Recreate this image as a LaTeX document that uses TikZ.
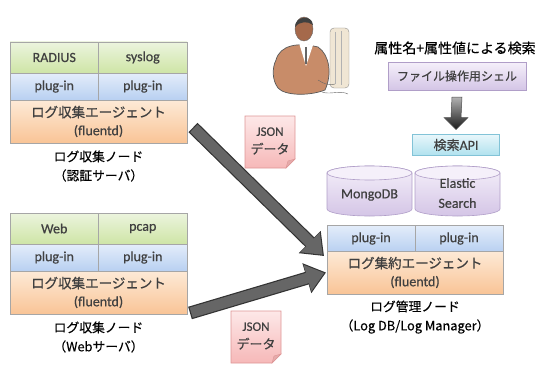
\documentclass[tikz,border=0pt]{standalone}
\usepackage{fontspec}
\setmainfont{Noto Sans CJK JP}[FakeBold=0.4]
\newfontfamily\jp{Noto Sans CJK JP}[FakeBold=0.6]
\newfontfamily\lat{Carlito}[FakeBold=0.5]
\usetikzlibrary{arrows.meta,calc}

\definecolor{grnT}{RGB}{236,244,222}
\definecolor{grnB}{RGB}{206,229,166}
\definecolor{bluT}{RGB}{228,237,250}
\definecolor{bluB}{RGB}{184,208,241}
\definecolor{orgT}{RGB}{253,234,215}
\definecolor{orgB}{RGB}{249,196,150}
\definecolor{purT}{RGB}{245,240,250}
\definecolor{purB}{RGB}{212,197,230}
\definecolor{purD}{RGB}{176,158,200}
\definecolor{cyaT}{RGB}{232,247,251}
\definecolor{cyaB}{RGB}{176,225,238}
\definecolor{cyaD}{RGB}{130,195,215}
\definecolor{pnkT}{RGB}{253,232,232}
\definecolor{pnkB}{RGB}{246,184,184}
\definecolor{pnkD}{RGB}{222,150,150}
\definecolor{txt}{RGB}{64,64,64}

\begin{document}
\begin{tikzpicture}[x=1pt,y=-1pt,
  cell/.style={draw=black!35,inner sep=0pt,outer sep=0pt,text=txt,align=center,
    font=\lat\fontsize{14}{18}\selectfont},
  srccell/.style={cell,top color=grnT,bottom color=grnB,minimum width=88.5,minimum height=31,anchor=north west},
  plugcell/.style={cell,top color=bluT,bottom color=bluB,minimum width=88.5,minimum height=27,anchor=north west},
  agentcell/.style={cell,top color=orgT,bottom color=orgB,minimum width=177,minimum height=43,anchor=north west},
  caption/.style={align=center,anchor=north,font=\fontsize{12.8}{19}\selectfont},
  notefill/.style={top color=pnkT,bottom color=pnkB,draw=pnkD,line width=.6pt},
  notetext/.style={align=center,text=txt,font=\lat\fontsize{13}{18}\selectfont},
  dbfill/.style={top color=purT,bottom color=purB,draw=purD,line width=.6pt},
  fat/.style={line width=13pt,black!80,-{Triangle[length=20pt,width=30pt]}},
  fatin/.style={line width=10.6pt,black!60,shorten <=1.2pt,shorten >=1.8pt,-{Triangle[length=17.6pt,width=26.4pt]}}]
\path[use as bounding box] (0,0) rectangle (537,369);

% collector node (auth server)
\node[srccell] (rad1) at (10,42) {RADIUS};
\node[srccell] (sys1) at (98.5,42) {syslog};
\node[plugcell] (plugA1) at (10,73) {plug-in};
\node[plugcell] (plugB1) at (98.5,73) {plug-in};
\node[agentcell] (agent1) at (10,100) {{\jp\fontsize{13.5}{18}\selectfont ログ収集エージェント}\\(fluentd)};
\node[caption] (cap1) at (98.5,147) {ログ収集ノード\\（認証サーバ）};

% collector node (web server)
\node[srccell] (web2) at (10,213) {Web};
\node[srccell] (pcap2) at (98.5,213) {pcap};
\node[plugcell] (plugA2) at (10,244) {plug-in};
\node[plugcell] (plugB2) at (98.5,244) {plug-in};
\node[agentcell] (agent2) at (10,271) {{\jp\fontsize{13.5}{18}\selectfont ログ収集エージェント}\\(fluentd)};
\node[caption] (cap2) at (98.5,318) {ログ収集ノード\\（Webサーバ）};

% log manager node
\node[plugcell,minimum width=88] (plugA3) at (327,225) {plug-in};
\node[plugcell,minimum width=88] (plugB3) at (415,225) {plug-in};
\node[agentcell,minimum width=176] (agent3) at (327,251) {{\jp\fontsize{13.5}{18}\selectfont ログ集約エージェント}\\(fluentd)};
\node[caption] (cap3) at (415,297) {ログ管理ノード\\（Log DB/Log Manager）};

% storage
\path[dbfill] (327,173) -- (327,209) arc[start angle=180,end angle=360,x radius=42.5pt,y radius=7pt]
  -- (412,173) arc[start angle=0,end angle=180,x radius=42.5pt,y radius=7pt] -- cycle;
\draw[purD,fill=purT,line width=.6pt] (369.5,173) ellipse[x radius=42.5pt,y radius=7pt];
\path[dbfill] (415,173) -- (415,209) arc[start angle=180,end angle=360,x radius=42.5pt,y radius=7pt]
  -- (500,173) arc[start angle=0,end angle=180,x radius=42.5pt,y radius=7pt] -- cycle;
\draw[purD,fill=purT,line width=.6pt] (457.5,173) ellipse[x radius=42.5pt,y radius=7pt];
\node[notetext,font=\lat\fontsize{14}{20}\selectfont] (mongo) at (369.5,195) {MongoDB};
\node[notetext,font=\lat\fontsize{14}{20}\selectfont] (elastic) at (457.5,193) {Elastic\\Search};

% search side
\node[font=\fontsize{14}{16}\selectfont] (query) at (455,48) {属性名+属性値による検索};
\node[cell,top color=purT,bottom color=purB,draw=purD,minimum width=138,minimum height=28,
  font=\jp\fontsize{12}{14}\selectfont] (shell) at (457,76) {ファイル操作用シェル};
\node[cell,top color=cyaT,bottom color=cyaB,draw=cyaD,minimum width=87,minimum height=21] (api) at (456,145) {{\jp\fontsize{13}{14}\selectfont 検索}API};
\coordinate (dtop) at ($(shell.south)+(0,7)$);
\coordinate (dtip) at ($(api.north)+(0,-5)$);
\path[top color=black!30,bottom color=black!90,draw=black!70,line width=.5pt]
  ($(dtop)+(-5,0)$) -- ($(dtip)+(-5,-12)$) -- ($(dtip)+(-12,-12)$) -- (dtip)
  -- ($(dtip)+(12,-12)$) -- ($(dtip)+(5,-12)$) -- ($(dtop)+(5,0)$) -- cycle;

% user at terminal
\draw[black!45,rounded corners=4pt,fill={rgb,255:red,240;green,230;blue,212}] (330,28) rectangle (349,88);
\draw[black!30] (335,32) -- (335,84) (341,31) -- (341,85);
\path[fill={rgb,255:red,200;green,140;blue,105},draw=black!65,line width=.7pt]
  (276,60) .. controls (280,45) and (298,42) .. (318,47) .. controls (330,55) and (332,75) .. (325,90)
  .. controls (310,96) and (285,96) .. (278,88) .. controls (272,80) and (272,68) .. (276,60) -- cycle;
\path[fill=white] (299,43) -- (313,45) -- (306,66) -- cycle;
\draw[black!60,line width=1.2pt] (306,47) -- (306,64);
\path[fill={rgb,255:red,165;green,105;blue,75},draw=black!60] (304,29) ellipse[x radius=9pt,y radius=12pt];
\path[fill=black!75] (295,27) .. controls (295,16) and (312,14) .. (313,25) .. controls (308,21) and (300,21) .. (295,27) -- cycle;
\draw[black!60] (318,80) .. controls (324,84) and (330,86) .. (335,84) (322,92) .. controls (330,95) and (340,90) .. (348,94);

% JSON notes
\path[notefill] (245,116) -- (295,116) -- (295,159) -- (286,168) -- (245,168) -- cycle;
\path[fill=pnkD!80,draw=pnkD] (295,159) -- (286,168) -- (288,161) -- cycle;
\node[notetext] (json1) at (270,141) {JSON\\{\jp データ}};
\path[notefill] (231,311) -- (281,311) -- (281,354) -- (272,363) -- (231,363) -- cycle;
\path[fill=pnkD!80,draw=pnkD] (281,354) -- (272,363) -- (274,356) -- cycle;
\node[notetext] (json2) at (256,336) {JSON\\{\jp データ}};

% data flow
\draw[fat] ($(agent1.east)+(6,6)$) -- ($(plugA3.south west)+(-3,4)$);
\draw[fatin] ($(agent1.east)+(6,6)$) -- ($(plugA3.south west)+(-3,4)$);
\draw[fat] ($(agent2.south east)+(3,-1)$) -- ($(agent3.west)+(-1,0)$);
\draw[fatin] ($(agent2.south east)+(3,-1)$) -- ($(agent3.west)+(-1,0)$);
\end{tikzpicture}
\end{document}
